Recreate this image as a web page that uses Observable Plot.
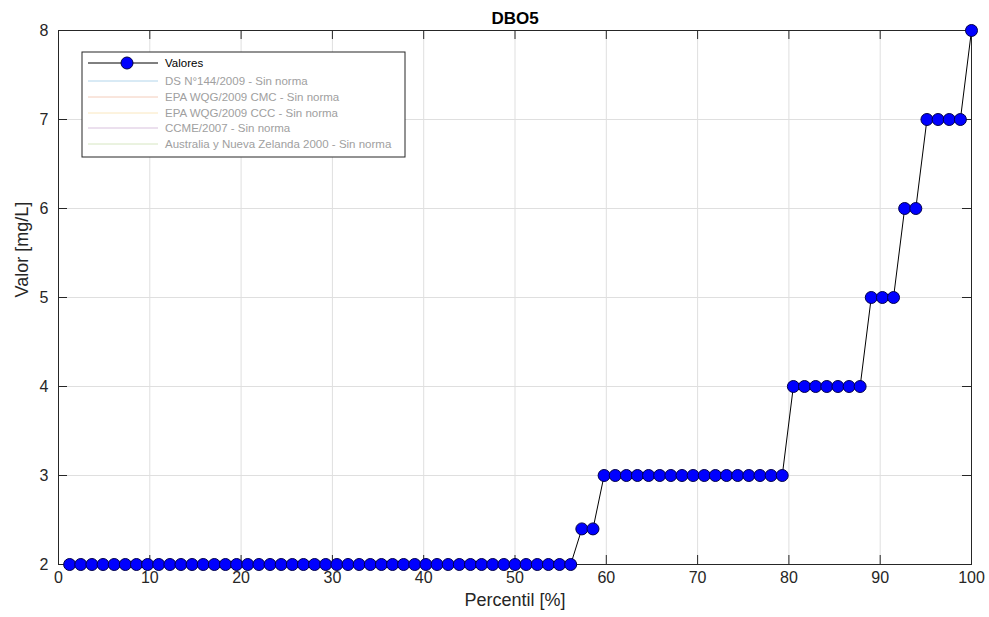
<!DOCTYPE html>
<html><head><meta charset="utf-8">
<script src="https://cdn.jsdelivr.net/npm/d3@7"></script>
<script src="https://cdn.jsdelivr.net/npm/@observablehq/plot@0.6"></script>
<style>
body{margin:0;background:#fff;}
#wrap{position:relative;width:989px;height:617px;font-family:"Liberation Sans",Arial,sans-serif;}
</style></head><body><div id="wrap"></div>
<script>
const title = "DBO5";
const xLabel = "Percentil [%]";
const yLabel = "Valor [mg/L]";
const percentil = [1.22,2.44,3.66,4.88,6.10,7.32,8.54,9.76,10.98,12.20,13.41,14.63,15.85,17.07,18.29,19.51,20.73,21.95,23.17,24.39,25.61,26.83,28.05,29.27,30.49,31.71,32.93,34.15,35.37,36.59,37.80,39.02,40.24,41.46,42.68,43.90,45.12,46.34,47.56,48.78,50.00,51.22,52.44,53.66,54.88,56.10,57.32,58.54,59.76,60.98,62.20,63.41,64.63,65.85,67.07,68.29,69.51,70.73,71.95,73.17,74.39,75.61,76.83,78.05,79.27,80.49,81.71,82.93,84.15,85.37,86.59,87.80,89.02,90.24,91.46,92.68,93.90,95.12,96.34,97.56,98.78,100];
const valores = [2,2,2,2,2,2,2,2,2,2,2,2,2,2,2,2,2,2,2,2,2,2,2,2,2,2,2,2,2,2,2,2,2,2,2,2,2,2,2,2,2,2,2,2,2,2,2.4,2.4,3,3,3,3,3,3,3,3,3,3,3,3,3,3,3,3,3,4,4,4,4,4,4,4,5,5,5,6,6,7,7,7,7,8];
const xTicks = [0,10,20,30,40,50,60,70,80,90,100];
const yTicks = [2,3,4,5,6,7,8];
const legendLabels = ["Valores","DS N°144/2009 - Sin norma","EPA WQG/2009 CMC - Sin norma","EPA WQG/2009 CCC - Sin norma","CCME/2007 - Sin norma","Australia y Nueva Zelanda 2000 - Sin norma"];
const legendColors = ["#000000","#b2d5eb","#f3ccba","#fae7be","#d8c1dd","#d6e6c1"];

const data = percentil.map((p, i) => ({p, v: valores[i]}));
const W = 989, H = 617, mL = 58, mR = 18, mT = 30, mB = 53;
const pw = W - mL - mR, ph = H - mT - mB;
const axisColor = "#262626";

const chart = Plot.plot({
  width: W, height: H,
  marginLeft: mL, marginRight: mR, marginTop: mT, marginBottom: mB,
  style: {fontFamily: '"Liberation Sans", Arial, sans-serif', color: axisColor, background: "#fff"},
  x: {domain: [0, 100]},
  y: {domain: [2, 8]},
  marks: [
    Plot.gridX(xTicks, {stroke: "#dfdfdf", strokeOpacity: 1}),
    Plot.gridY(yTicks, {stroke: "#dfdfdf", strokeOpacity: 1}),
    Plot.axisX(xTicks, {tickSize: 0, tickPadding: 7, fontSize: 16, label: null, tickFormat: d => String(d)}),
    Plot.axisY(yTicks, {tickSize: 0, tickPadding: 10, fontSize: 16, label: null, tickFormat: d => String(d)}),
    Plot.tickX(xTicks, {x: d => d, insetTop: ph - 9, stroke: axisColor}),
    Plot.tickX(xTicks, {x: d => d, insetBottom: ph - 9, stroke: axisColor}),
    Plot.tickY(yTicks, {y: d => d, insetRight: pw - 9, stroke: axisColor}),
    Plot.tickY(yTicks, {y: d => d, insetLeft: pw - 9, stroke: axisColor}),
    Plot.frame({stroke: axisColor}),
    Plot.text([xLabel], {frameAnchor: "bottom", dy: 41, text: d => d, fontSize: 18, fill: axisColor}),
    Plot.text([yLabel], {frameAnchor: "left", rotate: -90, dx: -36, text: d => d, fontSize: 18, fill: axisColor}),
    Plot.text([title], {frameAnchor: "top", dy: -19, text: d => d, fontSize: 17, fontWeight: "bold", fill: "#000"}),
    Plot.line(data, {x: "p", y: "v", stroke: "#000", strokeWidth: 1}),
    Plot.dot(data, {x: "p", y: "v", r: 6, fill: "#0000ff", stroke: "#00004a", strokeWidth: 1})
  ]
});
document.getElementById("wrap").appendChild(chart);

// Legend
const svg = d3.select(chart);
const lg = svg.append("g").attr("transform", "translate(82,52)").attr("text-anchor", "start");
lg.append("rect").attr("width", 323).attr("height", 105).attr("fill", "#fff").attr("stroke", axisColor).attr("stroke-width", 1);
const rowY = [11, 29, 45, 61, 76, 92];
legendLabels.forEach((lab, i) => {
  const g = lg.append("g").attr("transform", `translate(0,${rowY[i]})`);
  g.append("line").attr("x1", 6).attr("x2", 76).attr("y1", 0).attr("y2", 0)
    .attr("stroke", legendColors[i]).attr("stroke-width", 1);
  if (i === 0) {
    g.append("circle").attr("cx", 45).attr("cy", 0).attr("r", 6).attr("fill", "#0000ff").attr("stroke", "#00004a");
  }
  g.append("text").attr("x", 83).attr("y", 0).attr("dy", "0.35em").attr("text-anchor", "start")
    .attr("font-size", 11.5).attr("fill", i === 0 ? "#000" : "#a0a0a0").text(lab);
});
</script>
</body></html>
